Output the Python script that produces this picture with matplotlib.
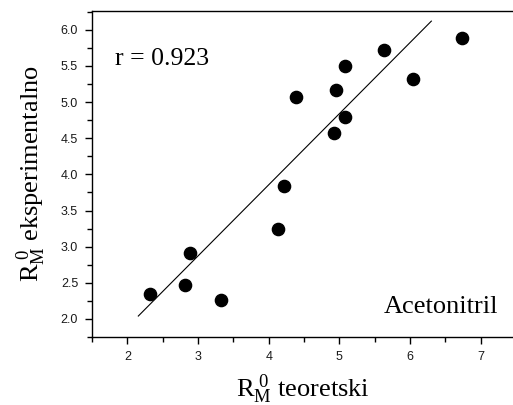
import matplotlib
matplotlib.use("Agg")
import matplotlib.pyplot as plt
from matplotlib.ticker import MultipleLocator, FormatStrFormatter

plt.rcParams['mathtext.fontset'] = 'custom'
plt.rcParams['mathtext.rm'] = 'Liberation Serif'
plt.rcParams['mathtext.it'] = 'Liberation Serif:italic'

# data
rm_teor = [6.74, 5.63, 5.08, 6.04, 4.95, 4.39, 5.08, 4.93, 4.22, 4.13, 2.885, 2.81, 2.325, 3.32]
rm_exp = [5.88, 5.72, 5.50, 5.32, 5.17, 5.07, 4.79, 4.57, 3.845, 3.24, 2.91, 2.47, 2.35, 2.26]
fit_x = [2.155, 6.30]
fit_y = [2.04, 6.12]
r_text = "r = 0.923"
solvent = "Acetonitril"

W, H = 513, 405
fig = plt.figure(figsize=(W / 100, H / 100), dpi=100)
ax = fig.add_axes([92 / W, (H - 337) / H, (W - 92) / W, (337 - 11) / H])

ax.plot(fit_x, fit_y, color='black', lw=0.8)
ax.plot(rm_teor, rm_exp, 'o', color='black', ms=8.8, mec='black')

ax.set_xlim(1.5, 7.455)
ax.set_ylim(1.75, 6.26)

ax.xaxis.set_major_locator(MultipleLocator(1))
ax.xaxis.set_minor_locator(MultipleLocator(0.5))
ax.yaxis.set_major_locator(MultipleLocator(0.5))
ax.yaxis.set_minor_locator(MultipleLocator(0.25))
ax.yaxis.set_major_formatter(FormatStrFormatter('%.1f'))

ax.spines['right'].set_visible(False)
for s in ['left', 'bottom', 'top']:
    ax.spines[s].set_linewidth(1.0)

ax.tick_params(which='major', direction='out', length=5, width=1.0,
               labelsize=9, labelcolor='#1a1a1a', pad=5)
ax.tick_params(which='minor', direction='out', length=3.5, width=1.0)
ax.tick_params(top=False, right=False)
for lab in ax.get_xticklabels() + ax.get_yticklabels():
    lab.set_family('Liberation Sans')

serif = 'Liberation Serif'
ax.text(0.055, 0.835, r_text, transform=ax.transAxes, fontsize=18.5,
        family=serif, va='baseline', ha='left')
ax.text(0.965, 0.075, solvent, transform=ax.transAxes, fontsize=19,
        family=serif, va='baseline', ha='right')

ax.set_xlabel(r'$\mathrm{R}_{\mathrm{M}}^{\ 0}$ teoretski', fontsize=19,
              family=serif, labelpad=7)
ax.set_ylabel(r'$\mathrm{R}_{\mathrm{M}}^{\ 0}$ eksperimentalno', fontsize=19,
              family=serif, labelpad=9)

fig.savefig('out.png', dpi=100)
